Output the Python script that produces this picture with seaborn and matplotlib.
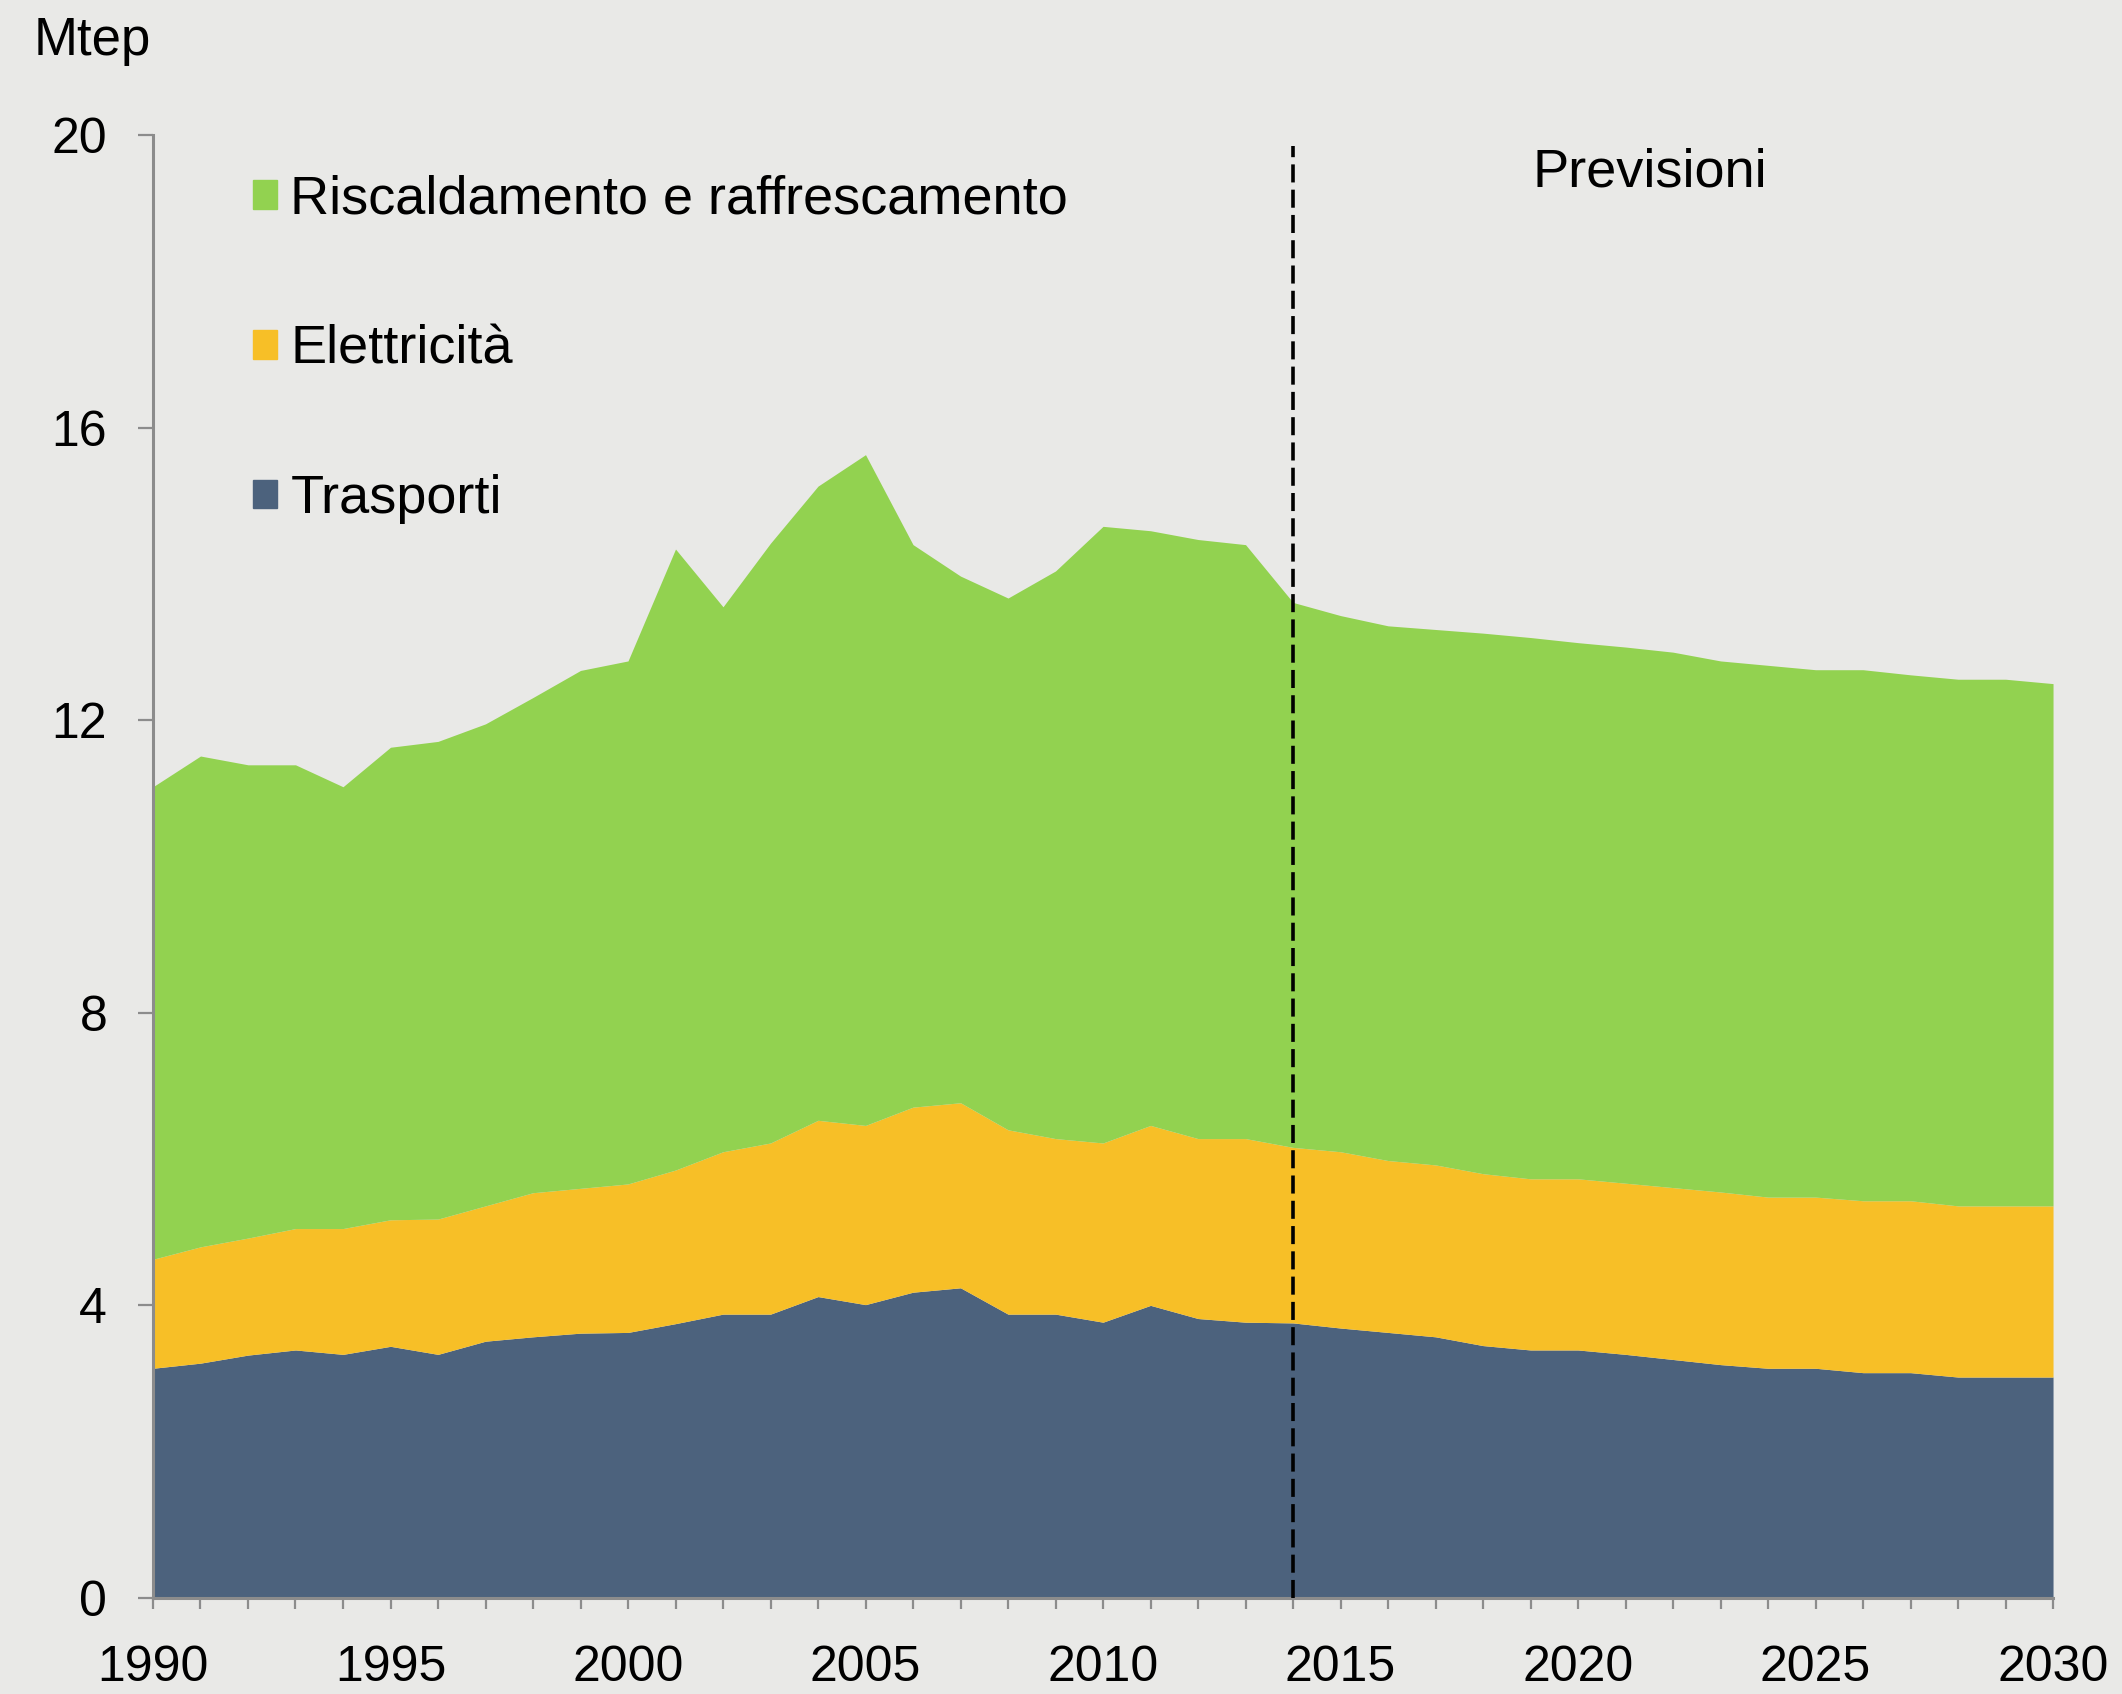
import numpy as np
import pandas as pd
import matplotlib
matplotlib.use('Agg')
import matplotlib.pyplot as plt
import seaborn as sns
from matplotlib.patches import Patch

sns.set_theme(style='ticks')
plt.rcParams['font.family'] = ['Liberation Sans', 'DejaVu Sans']
plt.rcParams['text.color'] = 'black'
plt.rcParams['xtick.labelcolor'] = 'black'
plt.rcParams['ytick.labelcolor'] = 'black'

# Dati (Mtep)
anni = list(range(1990, 2031))
trasporti = [3.14, 3.21, 3.32, 3.39, 3.33, 3.44, 3.33, 3.51, 3.57, 3.62,
             3.63, 3.75, 3.88, 3.88, 4.12, 4.01, 4.18, 4.24, 3.88, 3.88,
             3.77, 4.00, 3.82, 3.77, 3.76, 3.69, 3.63, 3.57, 3.45, 3.39,
             3.39, 3.33, 3.26, 3.19, 3.14, 3.14, 3.08, 3.08, 3.02, 3.02, 3.02]
elettricita = [1.49, 1.59, 1.60, 1.66, 1.72, 1.73, 1.85, 1.85, 1.97, 1.98,
               2.03, 2.10, 2.22, 2.34, 2.41, 2.45, 2.53, 2.53, 2.52, 2.40,
               2.45, 2.46, 2.46, 2.51, 2.40, 2.41, 2.35, 2.35, 2.35, 2.34,
               2.34, 2.34, 2.35, 2.36, 2.34, 2.34, 2.35, 2.35, 2.34, 2.34, 2.34]
riscaldamento = [6.46, 6.71, 6.47, 6.34, 6.04, 6.46, 6.53, 6.59, 6.77, 7.08,
                 7.15, 8.49, 7.45, 8.20, 8.67, 9.17, 7.69, 7.20, 7.27, 7.76,
                 8.43, 8.13, 8.19, 8.12, 7.45, 7.33, 7.31, 7.32, 7.39, 7.40,
                 7.33, 7.33, 7.32, 7.26, 7.27, 7.21, 7.26, 7.19, 7.20, 7.20, 7.14]

serie = ['Trasporti', 'Elettricità', 'Riscaldamento e raffrescamento']
colori = ['#4C627D', '#F7BF27', '#92D250']
anno_previsioni = 2014

df = pd.DataFrame({'anno': anni,
                   'Trasporti': trasporti,
                   'Elettricità': elettricita,
                   'Riscaldamento e raffrescamento': riscaldamento})

fig = plt.figure(figsize=(21.22, 16.94), dpi=100, facecolor='#e9e9e7')
ax = fig.add_axes([0.0721, 0.0567, 0.8954, 0.8636])
ax.set_facecolor('none')

ax.stackplot(df['anno'], *[df[s] for s in serie], colors=colori, linewidth=0)

# linea tratteggiata di inizio previsioni
ax.vlines(anno_previsioni, 0, 19.85, colors='black', linestyles=[(0, (5, 2))],
          linewidth=2.6, zorder=5)
ax.text(2019.05, 19.49, 'Previsioni', fontsize=39, ha='left', va='center',
        color='black')

ax.set_xlim(1990, 2030)
ax.set_ylim(0, 20)
ax.set_xticks(range(1990, 2031, 5))
ax.set_xticks(range(1990, 2031), minor=True)
ax.set_yticks(range(0, 21, 4))
ax.tick_params(axis='x', which='both', length=8, width=1.6, color='#8c8c8c',
               direction='out', pad=26, labelsize=36, labelcolor='black')
ax.tick_params(axis='y', length=11, width=1.6, color='#8c8c8c',
               direction='out', pad=22, labelsize=36, labelcolor='black')
sns.despine(ax=ax)
for s in ['left', 'bottom']:
    ax.spines[s].set_color('#8c8c8c')
    ax.spines[s].set_linewidth(2.2)
ax.grid(False)

fig.text(34 / 2122, 1 - 41 / 1694, 'Mtep', fontsize=38, ha='left',
         va='center', color='black')

handles = [Patch(color=c) for c in colori[::-1]]
fig.legend(handles, serie[::-1], loc='upper left',
           bbox_to_anchor=(253 / 2122, 1 - 175 / 1694), frameon=False,
           fontsize=39, handlelength=0.44, handleheight=0.44,
           handletextpad=0.25, labelspacing=1.84, borderpad=0,
           borderaxespad=0, labelcolor='black')

fig.savefig('out.png', dpi=100, facecolor=fig.get_facecolor())
